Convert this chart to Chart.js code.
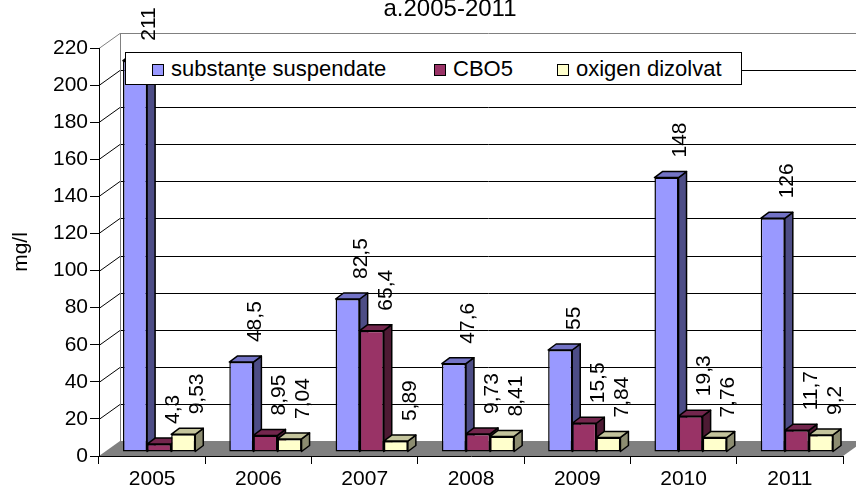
<!DOCTYPE html>
<html>
<head>
<meta charset="utf-8">
<script src="https://cdn.jsdelivr.net/npm/chart.js@4/dist/chart.umd.min.js"></script>
<style>
  body { margin: 0; background: #fff; }
  #wrap { position: relative; width: 856px; height: 493px; overflow: hidden; }
  #title {
    position: absolute; left: 0; width: 900px; top: -6px; text-align: center;
    font: 24px "Liberation Sans", Arial, sans-serif; color: #000;
  }
  #legend {
    position: absolute; left: 125px; top: 52px; width: 615px; height: 31px;
    border: 1px solid #000; background: #fff;
    font: 22px "Liberation Sans", Arial, sans-serif; color: #000;
  }
  #legend .item { position: absolute; top: 0; line-height: 31px; white-space: nowrap; }
  #legend .sw {
    display: inline-block; width: 10px; height: 10px; border: 1px solid #000;
    margin-right: 7px; vertical-align: 0px;
  }
</style>
</head>
<body>
<div id="wrap">
  <canvas id="chart" width="856" height="493"></canvas>
  <div id="title">a.2005-2011</div>
  <div id="legend"></div>
</div>
<script>
// values (mg/l)
const YEARS = ["2005", "2006", "2007", "2008", "2009", "2010", "2011"];
const SUSPENDATE = [211, 48.5, 82.5, 47.6, 55, 148, 126];
const CBO5 = [4.3, 8.95, 65.4, 9.73, 15.5, 19.3, 11.7];
const OXIGEN = [9.53, 7.04, 5.89, 8.41, 7.84, 7.76, 9.2];
const SERIES_NAMES = ["substanţe suspendate", "CBO5", "oxigen dizolvat"];
const Y_MAX = 220;
const Y_STEP = 20;

// front / top / side shades, Excel 3D style
const FRONT = ["#9999ff", "#993366", "#ffffcc"];
const TOP = ["#7373c6", "#73264d", "#c4c49c"];
const SIDE = ["#4d4d86", "#4d1a33", "#8c8c70"];

const FONT = "'Liberation Sans', Arial, sans-serif";

// depth of the box (back wall offset) and of the bars
const WALL_DX = 21, WALL_DY = -15;
const BAR_DX = 7, BAR_DY = -4;
const DEPTH_DX = 8, DEPTH_DY = -6;

const fmt = (v) => String(v).replace(".", ",");

function poly(ctx, pts) {
  ctx.beginPath();
  ctx.moveTo(pts[0][0], pts[0][1]);
  for (let i = 1; i < pts.length; i++) ctx.lineTo(pts[i][0], pts[i][1]);
  ctx.closePath();
  ctx.fill();
  ctx.stroke();
}

// ── walls, floor, 3D faces and value labels ──────────────────────────
const box3d = {
  id: "box3d",
  beforeDraw(chart) {
    const { ctx, chartArea: a, scales: { y } } = chart;
    ctx.save();
    ctx.fillStyle = "#808080";
    ctx.beginPath();
    ctx.moveTo(a.left, a.bottom);
    ctx.lineTo(a.right, a.bottom);
    ctx.lineTo(a.right + WALL_DX, a.bottom + WALL_DY);
    ctx.lineTo(a.left + WALL_DX, a.bottom + WALL_DY);
    ctx.closePath();
    ctx.fill();

    ctx.lineWidth = 1;
    y.ticks.forEach((t) => {
      const py = Math.round(y.getPixelForValue(t.value)) + 0.5;
      if (t.value === y.min) return;
      ctx.strokeStyle = t.value === y.max ? "#808080" : "#000";
      ctx.beginPath();
      ctx.moveTo(a.left, py);
      ctx.lineTo(a.left + WALL_DX, py + WALL_DY);
      ctx.lineTo(a.right + WALL_DX, py + WALL_DY);
      ctx.stroke();
    });
    ctx.strokeStyle = "#808080";
    ctx.beginPath();
    ctx.moveTo(a.left + WALL_DX + 0.5, a.bottom + WALL_DY);
    ctx.lineTo(a.left + WALL_DX + 0.5, a.top + WALL_DY);
    ctx.stroke();
    ctx.restore();
  },
  // bars are painted in series order below, so skip the library's pass
  beforeDatasetDraw() {
    return false;
  },
  afterDatasetsDraw(chart) {
    const ctx = chart.ctx;
    ctx.save();
    ctx.translate(BAR_DX, BAR_DY);
    chart.data.datasets.forEach((ds, i) => {
      chart.getDatasetMeta(i).data.forEach((bar) => {
        bar.draw(ctx);
        const { x, y, base, width } = bar.getProps(["x", "y", "base", "width"], true);
        const l = x - width / 2, r = x + width / 2;
        ctx.lineWidth = 1.5;
        ctx.strokeStyle = "#000";
        ctx.lineJoin = "round";
        ctx.fillStyle = SIDE[i];
        poly(ctx, [[r, y], [r + DEPTH_DX, y + DEPTH_DY], [r + DEPTH_DX, base + DEPTH_DY], [r, base]]);
        ctx.fillStyle = TOP[i];
        poly(ctx, [[l, y], [l + DEPTH_DX, y + DEPTH_DY], [r + DEPTH_DX, y + DEPTH_DY], [r, y]]);
      });
    });
    // rotated value labels above each bar
    ctx.fillStyle = "#000";
    ctx.font = "21px " + FONT;
    ctx.textAlign = "left";
    ctx.textBaseline = "middle";
    chart.data.datasets.forEach((ds, i) => {
      chart.getDatasetMeta(i).data.forEach((bar, j) => {
        ctx.save();
        ctx.translate(bar.x + 14, bar.y - 20);
        ctx.rotate(-Math.PI / 2);
        ctx.fillText(fmt(ds.data[j]), 0, 0);
        ctx.restore();
      });
    });
    ctx.restore();
  },
};

const datasets = [SUSPENDATE, CBO5, OXIGEN].map((data, i) => ({
  label: SERIES_NAMES[i],
  data,
  backgroundColor: FRONT[i],
  borderColor: "#000",
  borderWidth: 1.5,
  borderSkipped: false,
  categoryPercentage: 0.68,
  barPercentage: 1,
}));

new Chart(document.getElementById("chart"), {
  type: "bar",
  data: { labels: YEARS, datasets },
  plugins: [box3d],
  options: {
    responsive: false,
    animation: false,
    events: [],
    layout: { padding: { top: 48, right: 13, bottom: 0, left: 0 } },
    plugins: { legend: { display: false }, tooltip: { enabled: false } },
    scales: {
      x: {
        afterFit: (s) => { s.height = 37; },
        ticks: { color: "#000", font: { family: FONT, size: 21 }, padding: 3 },
        grid: { drawOnChartArea: false, drawTicks: true, tickLength: 8, color: "#000" },
        border: { display: true, color: "#000", width: 1 },
      },
      y: {
        min: 0,
        max: Y_MAX,
        afterFit: (s) => { s.width = 99; },
        ticks: { stepSize: Y_STEP, color: "#000", font: { family: FONT, size: 21 }, padding: 2 },
        grid: { drawOnChartArea: false, drawTicks: true, tickLength: 9, color: "#000" },
        border: { display: true, color: "#000", width: 1 },
        title: {
          display: true,
          text: "mg/l",
          color: "#000",
          font: { family: FONT, size: 21 },
          padding: { top: 9, bottom: 0 },
        },
      },
    },
  },
});

// legend overlay, as in the original (sits inside the plot box)
const legendEl = document.getElementById("legend");
const LEGEND_LEFT = [26, 308, 431];
SERIES_NAMES.forEach((name, i) => {
  const item = document.createElement("span");
  item.className = "item";
  item.style.left = LEGEND_LEFT[i] + "px";
  item.innerHTML = `<span class="sw" style="background:${FRONT[i]}"></span>${name}`;
  legendEl.appendChild(item);
});
</script>
</body>
</html>
